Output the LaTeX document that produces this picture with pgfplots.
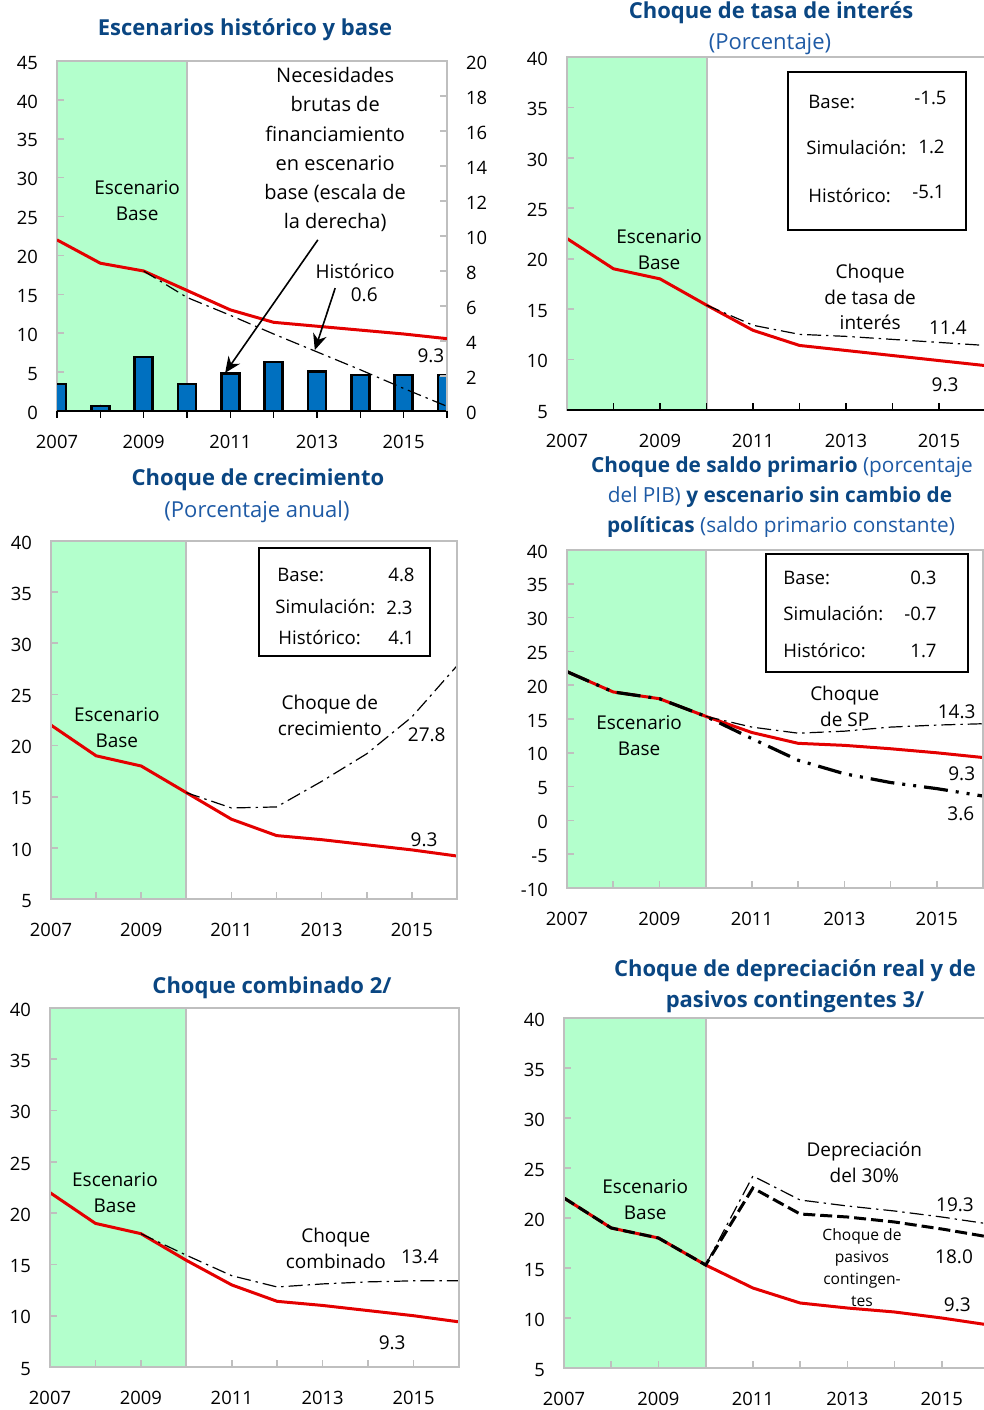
\documentclass[border=0pt]{standalone}
\usepackage{pgfplots}
\pgfplotsset{compat=1.18}
\usepackage{fontspec}
\setmainfont{Open Sans}
\usetikzlibrary{arrows.meta}

\definecolor{axgrey}{RGB}{191,191,191}
\definecolor{mint}{RGB}{179,255,204}
\definecolor{myred}{RGB}{228,0,0}
\definecolor{barblue}{RGB}{0,112,192}
\definecolor{tblue}{RGB}{10,70,130}
\definecolor{sblue}{RGB}{30,90,165}

\pgfplotsset{
  panel/.style={
    scale only axis, anchor=south west, axis on top,
    xmin=2007, xmax=2016,
    xtick={2007,2009,2011,2013,2015},
    xticklabels={2007,2009,2011,2013,2015},
    minor xtick={2008,2010,2012,2014,2016},
    xtick pos=bottom, ytick pos=left, tick align=inside,
    major tick length=3.5pt, minor tick length=3.5pt,
    axis line style={draw=axgrey, line width=1pt},
    tick style={draw=axgrey, line width=0.8pt},
    tick label style={font=\fontsize{9.2}{10}\selectfont, text=black},
    xticklabel style={yshift=-8.5pt},
    yticklabel style={xshift=-6pt, yshift=-0.8pt},
    /pgf/number format/assume math mode=true,
  },
}
\tikzset{
  redline/.style={myred, line width=1.5pt},
  dd/.style={black, line width=0.6pt, dash pattern=on 7pt off 2.5pt on 1.2pt off 2.5pt},
  ann/.style={font=\fontsize{9.5}{13}\selectfont, align=center, inner sep=0pt, text=black},
  bx/.style={font=\fontsize{9.3}{11}\selectfont, inner sep=0pt, text=black},
}
\newcommand{\ttl}{\fontsize{11}{13}\selectfont}

\begin{document}
\begin{tikzpicture}
\useasboundingbox (0,0) rectangle (492pt,705pt);

% ---------------- Panel 1 ----------------
\begin{axis}[panel, at={(28.5pt,499.5pt)}, width=195pt, height=175pt,
  ymin=0, ymax=45, ytick={0,5,...,45}]
  \fill[mint] (axis cs:2007,0) rectangle (axis cs:2010,45);
  \draw[axgrey, line width=1pt] (axis cs:2010,0) -- (axis cs:2010,45);
\end{axis}
\begin{axis}[panel, at={(28.5pt,499.5pt)}, width=195pt, height=175pt,
  ymin=0, ymax=20, ytick={0,2,...,20},
  axis y line*=right, axis x line*=bottom, xticklabels={},
  ytick pos=right, yticklabel pos=right,
  yticklabel style={xshift=12pt},
  x axis line style={draw=black, line width=1.3pt},
  xtick style={draw=black, line width=0.8pt},
  ybar, bar width=9pt]
  \addplot[fill=barblue, draw=black, line width=1.2pt] coordinates {
    (2007,1.55) (2008,0.3) (2009,3.1) (2010,1.55) (2011,2.15)
    (2012,2.8) (2013,2.25) (2014,2.05) (2015,2.05) (2016,2.05)};
\end{axis}
\begin{axis}[panel, at={(28.5pt,499.5pt)}, width=195pt, height=175pt,
  ymin=0, ymax=45, hide axis]
  \addplot[redline] coordinates {(2007,22.0) (2008,19.0) (2009,18.0) (2010,15.5) (2011,13.0) (2012,11.4) (2013,10.9) (2014,10.4) (2015,9.9) (2016,9.3)};
  \addplot[dd] coordinates {(2009,18.0) (2010,14.6) (2011,12.3) (2012,9.9) (2013,7.6) (2014,5.3) (2015,2.9) (2016,0.6)};
  \node[ann] at (axis cs:2008.85,27.1) {Escenario\\Base};
  \node[ann, font=\fontsize{10}{14.6}\selectfont] at (axis cs:2013.42,33.6) {Necesidades\\brutas de\\financiamiento\\en escenario\\base (escala de\\la derecha)};
  \draw[-{Stealth[length=8pt,width=7pt]}, line width=0.8pt] (axis cs:2013.02,22.0) -- (axis cs:2010.88,4.9);
  \draw[-{Stealth[length=8pt,width=7pt]}, line width=0.8pt] (axis cs:2013.42,15.8) -- (axis cs:2012.95,7.84);
  \node[ann] at (axis cs:2013.88,18.0) {Histórico};
  \node[ann] at (axis cs:2014.09,15.0) {0.6};
  \node[ann] at (axis cs:2015.63,7.07) {9.3};
\end{axis}
\node[font=\ttl\bfseries, text=tblue] at (122.5pt,690pt) {Escenarios histórico y base};

% ---------------- Panel 2 ----------------
\begin{axis}[panel, at={(283.5pt,500pt)}, width=209.25pt, height=176.5pt,
  ymin=5, ymax=40, ytick={5,10,...,40},
  xtick style={draw=black, line width=0.8pt}]
  \fill[mint] (axis cs:2007,5) rectangle (axis cs:2010,40);
  \draw[axgrey, line width=1pt] (axis cs:2010,5) -- (axis cs:2010,40);
  \addplot[redline] coordinates {(2007,22.0) (2008,19.0) (2009,18.0) (2010,15.4) (2011,12.9) (2012,11.4) (2013,10.9) (2014,10.4) (2015,9.9) (2016,9.4)};
  \addplot[dd] coordinates {(2010,15.4) (2011,13.4) (2012,12.5) (2013,12.3) (2014,12.0) (2015,11.7) (2016,11.4)};
  \node[ann] at (axis cs:2008.98,20.86) {Escenario\\Base};
  \node[ann, font=\fontsize{9.5}{12.75}\selectfont] at (axis cs:2013.52,16.2) {Choque\\de tasa de\\interés};
  \node[ann] at (axis cs:2015.19,13.13) {11.4};
  \node[ann] at (axis cs:2015.13,7.48) {9.3};
\end{axis}
\draw[black, line width=1.3pt] (283.5pt,500pt) -- (494pt,500pt);
\draw[black, line width=1pt] (394pt,669pt) rectangle (483pt,590pt);
\node[bx, anchor=west] at (404pt,654pt) {Base:};
\node[bx, anchor=east] at (473.5pt,656pt) {-1.5};
\node[bx, anchor=west] at (403pt,631pt) {Simulación:};
\node[bx, anchor=east] at (472.5pt,631.5pt) {1.2};
\node[bx, anchor=west] at (404pt,607pt) {Histórico:};
\node[bx, anchor=east] at (472.5pt,609pt) {-5.1};
\node[font=\ttl\bfseries, text=tblue] at (385.5pt,698.5pt) {Choque de tasa de interés};
\node[font=\ttl, text=sblue] at (385pt,683pt) {(Porcentaje)};

% ---------------- Panel 3 ----------------
\begin{axis}[panel, at={(25.5pt,255.5pt)}, width=203pt, height=179pt,
  ymin=5, ymax=40, ytick={5,10,...,40}]
  \fill[mint] (axis cs:2007,5) rectangle (axis cs:2010,40);
  \draw[axgrey, line width=1pt] (axis cs:2010,5) -- (axis cs:2010,40);
  \addplot[redline] coordinates {(2007,22.0) (2008,19.0) (2009,18.0) (2010,15.4) (2011,12.8) (2012,11.2) (2013,10.8) (2014,10.3) (2015,9.8) (2016,9.2)};
  \addplot[dd] coordinates {(2010,15.4) (2011,13.9) (2012,14.0) (2013,16.5) (2014,19.2) (2015,22.8) (2016,27.8)};
  \node[ann] at (axis cs:2008.46,21.8) {Escenario\\Base};
  \node[ann] at (axis cs:2013.18,23.0) {Choque de\\crecimiento};
  \node[ann] at (axis cs:2015.33,21.1) {27.8};
  \node[ann] at (axis cs:2015.27,10.77) {9.3};
\end{axis}
\draw[black, line width=1pt] (129.5pt,431pt) rectangle (215pt,377pt);
\node[bx, anchor=west] at (138.5pt,417.5pt) {Base:};
\node[bx, anchor=east] at (207.5pt,417.5pt) {4.8};
\node[bx, anchor=west] at (137.5pt,401.5pt) {Simulación:};
\node[bx, anchor=east] at (206.5pt,401pt) {2.3};
\node[bx, anchor=west] at (139pt,386pt) {Histórico:};
\node[bx, anchor=east] at (207.5pt,386pt) {4.1};
\node[font=\ttl\bfseries, text=tblue] at (129pt,465pt) {Choque de crecimiento};
\node[font=\ttl, text=sblue] at (128.5pt,449pt) {(Porcentaje anual)};

% ---------------- Panel 4 ----------------
\begin{axis}[panel, at={(283.5pt,261pt)}, width=208pt, height=169pt,
  ymin=-10, ymax=40, ytick={-10,-5,...,40}]
  \fill[mint] (axis cs:2007,-10) rectangle (axis cs:2010,40);
  \draw[axgrey, line width=1pt] (axis cs:2010,-10) -- (axis cs:2010,40);
  \addplot[redline] coordinates {(2007,22.0) (2008,19.0) (2009,18.0) (2010,15.4) (2011,13.0) (2012,11.4) (2013,11.1) (2014,10.6) (2015,10.0) (2016,9.3)};
  \addplot[dd] coordinates {(2010,15.4) (2011,13.8) (2012,12.9) (2013,13.2) (2014,13.8) (2015,14.1) (2016,14.3)};
  \addplot[black, line width=1.6pt, dash pattern=on 12pt off 4pt on 1.5pt off 4pt on 1.5pt off 4pt] coordinates {(2007,22.0) (2008,19.0) (2009,18.0) (2010,15.4) (2011,12.1) (2012,8.9) (2013,6.9) (2014,5.6) (2015,4.7) (2016,3.6)};
  \node[ann] at (axis cs:2008.56,12.5) {Escenario\\Base};
  \node[ann] at (axis cs:2013.01,16.8) {Choque\\de SP};
  \node[ann] at (axis cs:2015.43,16.0) {14.3};
  \node[ann] at (axis cs:2015.54,6.9) {9.3};
  \node[ann] at (axis cs:2015.52,0.95) {3.6};
\end{axis}
\draw[black, line width=1pt] (383pt,428pt) rectangle (484pt,369pt);
\node[bx, anchor=west] at (391.5pt,416pt) {Base:};
\node[bx, anchor=east] at (468.5pt,416pt) {0.3};
\node[bx, anchor=west] at (391.5pt,398pt) {Simulación:};
\node[bx, anchor=east] at (468.5pt,398pt) {-0.7};
\node[bx, anchor=west] at (391.5pt,379.5pt) {Histórico:};
\node[bx, anchor=east] at (468.5pt,379.5pt) {1.7};
\node[font=\fontsize{10.4}{12}\selectfont, text=sblue] at (391pt,471.5pt) {{\bfseries\color{tblue}Choque de saldo primario} (porcentaje};
\node[font=\fontsize{10.4}{12}\selectfont, text=sblue] at (390pt,456.5pt) {del PIB) {\bfseries\color{tblue}y escenario sin cambio de}};
\node[font=\fontsize{10.4}{12}\selectfont, text=sblue] at (390.5pt,441.5pt) {{\bfseries\color{tblue}políticas} (saldo primario constante)};

% ---------------- Panel 5 ----------------
\begin{axis}[panel, at={(25pt,21.5pt)}, width=204.5pt, height=179.5pt,
  ymin=5, ymax=40, ytick={5,10,...,40}]
  \fill[mint] (axis cs:2007,5) rectangle (axis cs:2010,40);
  \draw[axgrey, line width=1pt] (axis cs:2010,5) -- (axis cs:2010,40);
  \addplot[redline] coordinates {(2007,22.0) (2008,19.0) (2009,18.0) (2010,15.4) (2011,13.0) (2012,11.4) (2013,11.0) (2014,10.5) (2015,10.0) (2016,9.4)};
  \addplot[dd] coordinates {(2009,18.0) (2010,15.9) (2011,13.9) (2012,12.8) (2013,13.1) (2014,13.3) (2015,13.4) (2016,13.4)};
  \node[ann] at (axis cs:2008.43,21.96) {Escenario\\Base};
  \node[ann] at (axis cs:2013.29,16.6) {Choque\\combinado};
  \node[ann] at (axis cs:2015.14,15.7) {13.4};
  \node[ann] at (axis cs:2014.53,7.34) {9.3};
\end{axis}
\node[font=\ttl\bfseries, text=tblue] at (136pt,211pt) {Choque combinado 2/};

% ---------------- Panel 6 ----------------
\begin{axis}[panel, at={(282pt,21pt)}, width=212.5pt, height=175pt,
  ymin=5, ymax=40, ytick={5,10,...,40}]
  \fill[mint] (axis cs:2007,5) rectangle (axis cs:2010,40);
  \draw[axgrey, line width=1pt] (axis cs:2010,5) -- (axis cs:2010,40);
  \addplot[redline] coordinates {(2007,22.0) (2008,19.0) (2009,18.0) (2010,15.3) (2011,13.0) (2012,11.5) (2013,11.0) (2014,10.6) (2015,10.0) (2016,9.3)};
  \addplot[dd] coordinates {(2010,15.3) (2011,24.2) (2012,21.8) (2013,21.2) (2014,20.7) (2015,20.1) (2016,19.4)};
  \addplot[black, line width=1.5pt, dash pattern=on 6pt off 2.5pt] coordinates {(2007,22.0) (2008,19.0) (2009,18.0) (2010,15.3) (2011,23.0) (2012,20.4) (2013,20.1) (2014,19.6) (2015,18.9) (2016,18.1)};
  \node[ann] at (axis cs:2008.72,21.8) {Escenario\\Base};
  \node[ann] at (axis cs:2013.36,25.6) {Depreciación\\del 30\%};
  \node[ann] at (axis cs:2015.28,21.3) {19.3};
  \node[ann, font=\fontsize{7.8}{11}\selectfont] at (axis cs:2013.31,15.0) {Choque de\\pasivos\\contingen-\\tes};
  \node[ann] at (axis cs:2015.26,16.1) {18.0};
  \node[ann] at (axis cs:2015.33,11.3) {9.3};
\end{axis}
\node[font=\ttl\bfseries, text=tblue] at (397.5pt,219.5pt) {Choque de depreciación real y de};
\node[font=\ttl\bfseries, text=tblue] at (397.5pt,204pt) {pasivos contingentes 3/};

\end{tikzpicture}
\end{document}
